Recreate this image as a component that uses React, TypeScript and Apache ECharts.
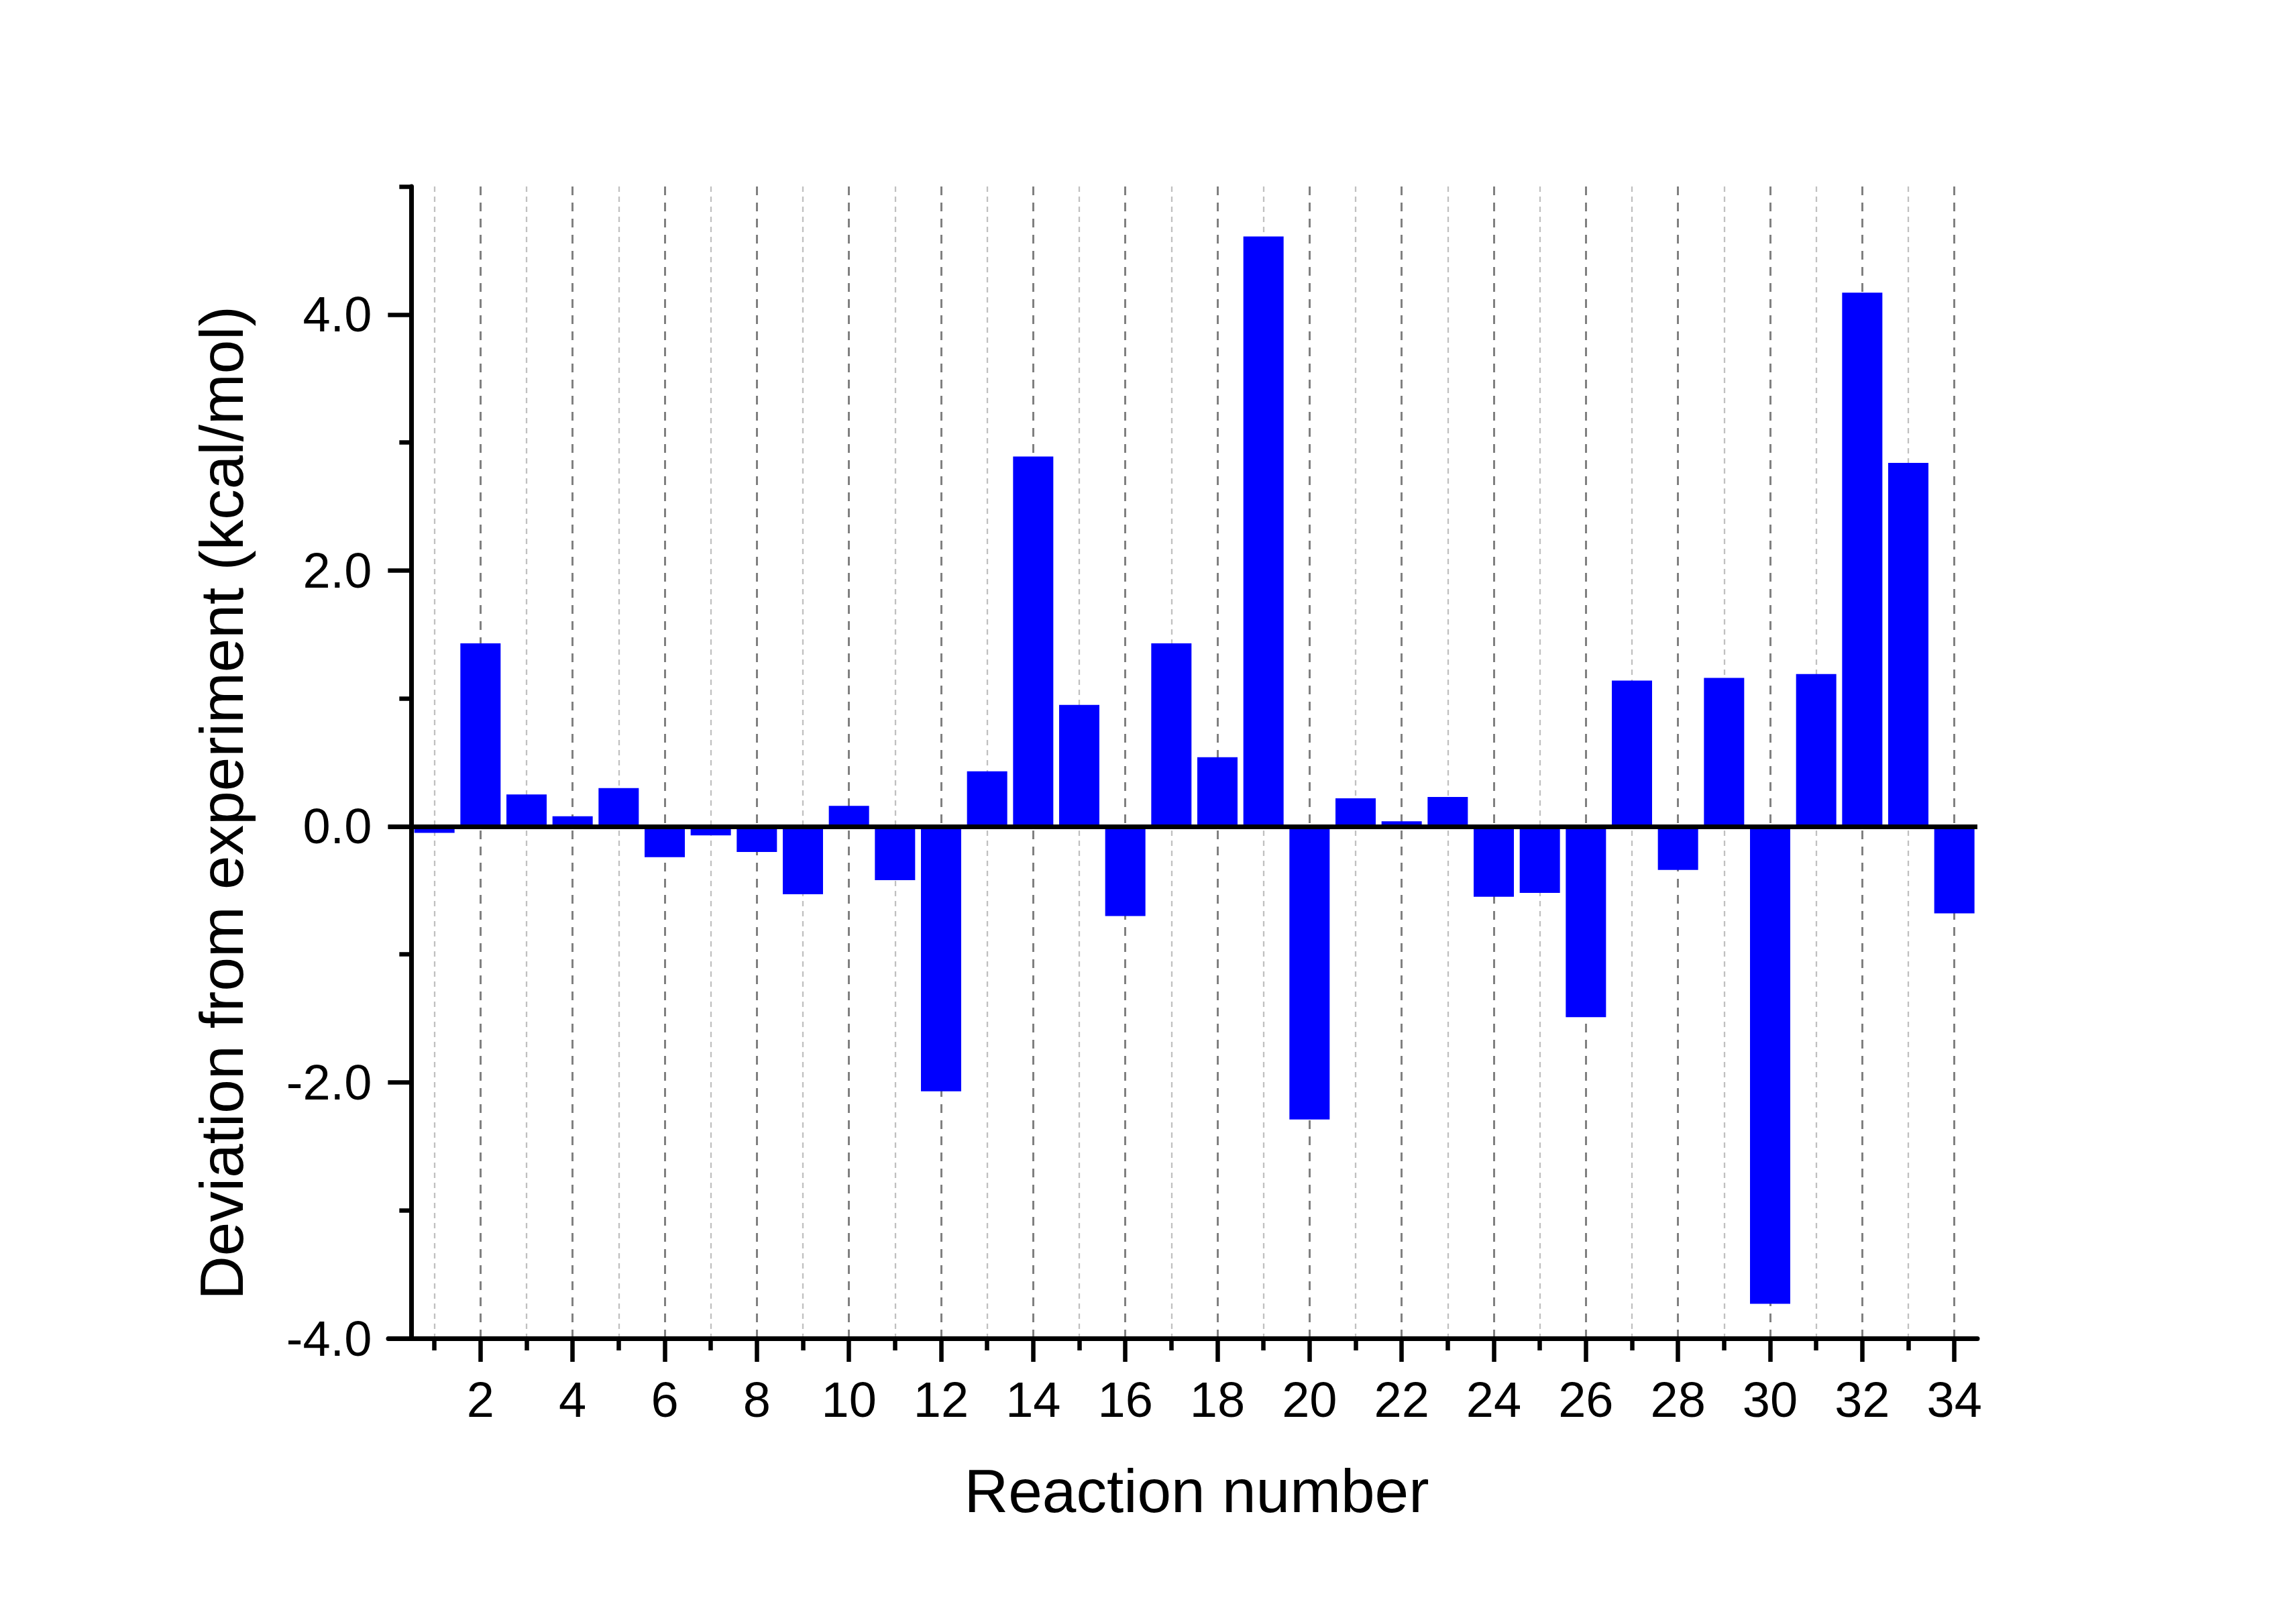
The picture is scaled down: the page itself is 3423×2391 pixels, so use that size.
import React, { useEffect, useRef } from "react";
import * as echarts from "echarts";

const reactions = [1, 2, 3, 4, 5, 6, 7, 8, 9, 10, 11, 12, 13, 14, 15, 16, 17, 18, 19, 20, 21, 22, 23, 24, 25, 26, 27, 28, 29, 30, 31, 32, 33, 34];
const deviations = [-0.05, 1.43, 0.25, 0.08, 0.3, -0.24, -0.07, -0.2, -0.53, 0.16, -0.42, -2.07, 0.43, 2.89, 0.95, -0.7, 1.43, 0.54, 4.61, -2.29, 0.22, 0.04, 0.23, -0.55, -0.52, -1.49, 1.14, -0.34, 1.16, -3.73, 1.19, 4.17, 2.84, -0.68];
const majorXTicks = [2, 4, 6, 8, 10, 12, 14, 16, 18, 20, 22, 24, 26, 28, 30, 32, 34];
const minorXTicks = [1, 3, 5, 7, 9, 11, 13, 15, 17, 19, 21, 23, 25, 27, 29, 31, 33];
const majorYTicks = [-4, -2, 0, 2, 4];
const minorYTicks = [-3, -1, 1, 3, 5];
const xTitle = "Reaction number";
const yTitle = "Deviation from experiment (kcal/mol)";

const W = 3423;
const H = 2391;
const FONT = "'Liberation Sans', Arial, Helvetica, sans-serif";

export default function App() {
  const ref = useRef<HTMLDivElement>(null);
  useEffect(() => {
    if (!ref.current) return;
    const chart = echarts.init(ref.current, null, { renderer: "svg", width: W, height: H });
    const gridLeft = 579;
    const gridWidth = 2369;
    const gridTop = 278;
    const gridHeight = 1717;
    const xMin = 0;
    const xMax = 34.5;
    const yOffset = -(gridWidth * 0.5) / (xMax - xMin);
    const axisBlack = "#000000";
    const option: any = {
      animation: false,
      backgroundColor: "#ffffff",
      grid: { left: gridLeft, top: gridTop, width: gridWidth, height: gridHeight, containLabel: false },
      xAxis: [
        {
          type: "value",
          min: xMin,
          max: xMax,
          position: "bottom",
          axisLine: { show: true, onZero: false, lineStyle: { color: axisBlack, width: 7, cap: "round" } },
          axisTick: { show: true, inside: false, length: 35, customValues: majorXTicks, lineStyle: { color: axisBlack, width: 6.5 } },
          axisLabel: { show: true, customValues: majorXTicks, margin: 54, color: "#000", fontSize: 74, fontFamily: FONT },
          splitLine: { show: true, lineStyle: { color: "#808080", width: 3, type: [13, 11] } },
          minorTick: { show: false },
        },
        {
          type: "value",
          min: xMin,
          max: xMax,
          position: "bottom",
          axisLine: { show: false, onZero: false },
          axisTick: { show: true, inside: false, length: 18, customValues: minorXTicks, lineStyle: { color: axisBlack, width: 6.5 } },
          axisLabel: { show: false },
          splitLine: { show: true, lineStyle: { color: "#c0c0c0", width: 2.3, type: [8, 7] } },
        },
      ],
      yAxis: [
        {
          type: "value",
          min: -4,
          max: 5,
          position: "left",
          offset: yOffset,
          axisLine: { show: true, onZero: false, lineStyle: { color: axisBlack, width: 7 } },
          axisTick: { show: true, inside: false, length: 35, customValues: majorYTicks, lineStyle: { color: axisBlack, width: 6.5 } },
          axisLabel: {
            show: true,
            customValues: majorYTicks,
            margin: 59,
            color: "#000",
            fontSize: 74,
            fontFamily: FONT,
            formatter: (v: number) => v.toFixed(1),
          },
          splitLine: { show: false },
        },
        {
          type: "value",
          min: -4,
          max: 5,
          position: "left",
          offset: yOffset,
          axisLine: { show: false, onZero: false },
          axisTick: { show: true, inside: false, length: 18, customValues: minorYTicks, lineStyle: { color: axisBlack, width: 6.5 } },
          axisLabel: { show: false },
          splitLine: { show: false },
        },
      ],
      series: [
        {
          type: "bar",
          xAxisIndex: 0,
          yAxisIndex: 0,
          barWidth: 60,
          itemStyle: { color: "#0000ff" },
          data: reactions.map((r, i) => [r, deviations[i]]),
          markLine: {
            silent: true,
            symbol: ["none", "none"],
            label: { show: false },
            lineStyle: { color: "#000000", width: 7, type: "solid" },
            data: [{ yAxis: 0 }],
          },
        },
      ],
      graphic: [
        {
          type: "text",
          x: 1784,
          y: 2222,
          style: { text: xTitle, font: `91px ${FONT}`, fill: "#000", textAlign: "center", textVerticalAlign: "middle" },
        },
        {
          type: "text",
          x: 330,
          y: 1197,
          rotation: Math.PI / 2,
          style: { text: yTitle, font: `91px ${FONT}`, fill: "#000", textAlign: "center", textVerticalAlign: "middle" },
        },
      ],
    };
    chart.setOption(option);
    return () => chart.dispose();
  }, []);
  return <div ref={ref} style={{ position: "fixed", left: 0, top: 0, width: W, height: H, background: "#fff" }} />;
}
